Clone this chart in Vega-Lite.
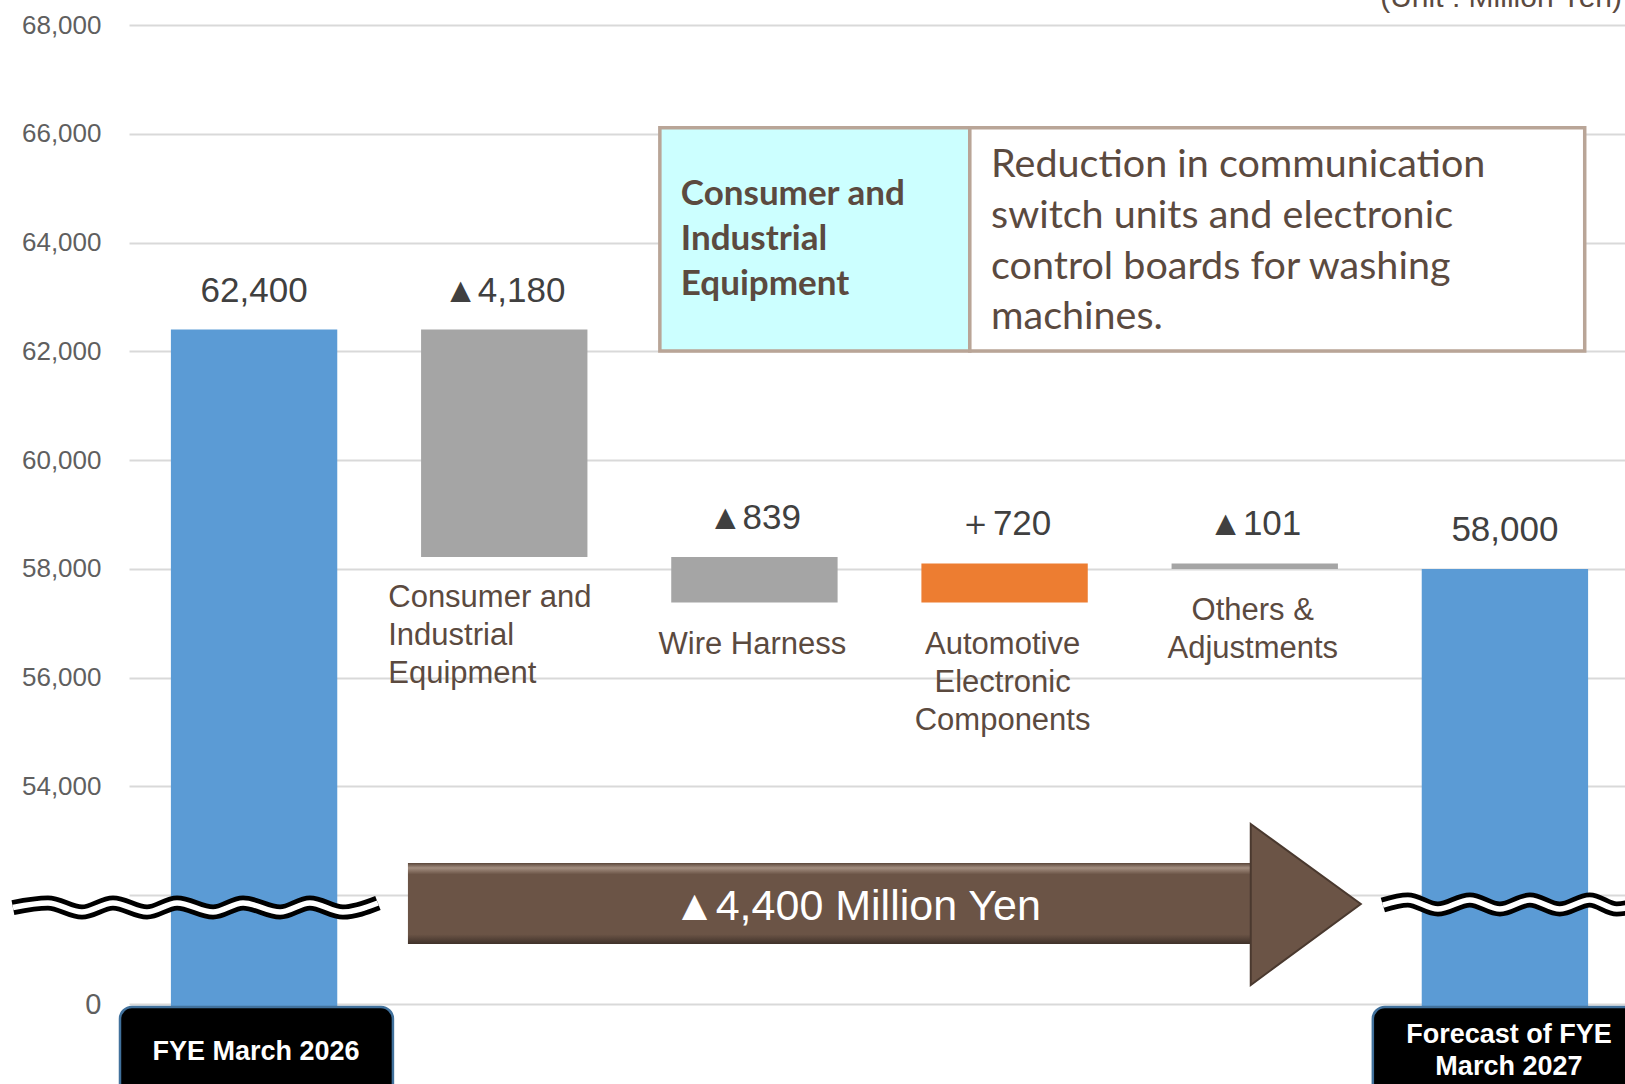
{
  "$schema": "https://vega.github.io/schema/vega-lite/v6.json",
  "width": 1496,
  "height": 979,
  "autosize": {"type": "none"},
  "padding": {"left": 129, "top": 25, "right": 0, "bottom": 80},
  "background": "white",
  "config": {"view": {"stroke": null}, "text": {"font": "Liberation Sans"}},
  "datasets": {
    "bars": [
      {"cat": "FYE March 2026", "name": "FYE March 2026", "kind": "total", "lo": 0, "hi": 62400, "label": "62,400"},
      {"cat": "Consumer and Industrial Equipment", "name": "Consumer and\nIndustrial\nEquipment", "kind": "decrease", "lo": 58220, "hi": 62400, "label": "▲4,180"},
      {"cat": "Wire Harness", "name": "Wire Harness", "kind": "decrease", "lo": 57381, "hi": 58220, "label": "▲839"},
      {"cat": "Automotive Electronic Components", "name": "Automotive\nElectronic\nComponents", "kind": "increase", "lo": 57381, "hi": 58101, "label": "＋720"},
      {"cat": "Others & Adjustments", "name": "Others &\nAdjustments", "kind": "decrease", "lo": 58000, "hi": 58101, "label": "▲101"},
      {"cat": "Forecast of FYE March 2027", "name": "Forecast of FYE\nMarch 2027", "kind": "total", "lo": 0, "hi": 58000, "label": "58,000"}
    ],
    "wave": [
      {"wave": "L", "seq": 0, "u": -0.464, "v": 51774},
      {"wave": "L", "seq": 1, "u": -0.324, "v": 51857},
      {"wave": "L", "seq": 2, "u": -0.188, "v": 51691},
      {"wave": "L", "seq": 3, "u": -0.064, "v": 51857},
      {"wave": "L", "seq": 4, "u": 0.072, "v": 51691},
      {"wave": "L", "seq": 5, "u": 0.192, "v": 51857},
      {"wave": "L", "seq": 6, "u": 0.336, "v": 51691},
      {"wave": "L", "seq": 7, "u": 0.456, "v": 51857},
      {"wave": "L", "seq": 8, "u": 0.604, "v": 51691},
      {"wave": "L", "seq": 9, "u": 0.723, "v": 51857},
      {"wave": "L", "seq": 10, "u": 0.855, "v": 51691},
      {"wave": "L", "seq": 11, "u": 0.995, "v": 51857},
      {"wave": "R", "seq": 0, "u": 5.012, "v": 51820},
      {"wave": "R", "seq": 1, "u": 5.112, "v": 51912},
      {"wave": "R", "seq": 2, "u": 5.232, "v": 51746},
      {"wave": "R", "seq": 3, "u": 5.36, "v": 51912},
      {"wave": "R", "seq": 4, "u": 5.48, "v": 51746},
      {"wave": "R", "seq": 5, "u": 5.6, "v": 51912},
      {"wave": "R", "seq": 6, "u": 5.719, "v": 51746},
      {"wave": "R", "seq": 7, "u": 5.839, "v": 51912},
      {"wave": "R", "seq": 8, "u": 5.947, "v": 51746},
      {"wave": "R", "seq": 9, "u": 6.079, "v": 51912}
    ],
    "arrow": [{"u0": 1.115, "u1": 4.484, "v0": 51103, "v1": 52592}],
    "arrowhead": [
      {"u": 4.484, "top": 53309, "bot": 50349},
      {"u": 4.924, "top": 51838, "bot": 51838}
    ],
    "note": [
      {"cell": "segment", "u0": 2.122, "u1": 3.361, "v0": 62004, "v1": 66112},
      {"cell": "reason", "u0": 3.361, "u1": 5.819, "v0": 62004, "v1": 66112}
    ],
    "tags": [
      {"cat": "FYE March 2026", "u0": -0.036, "u1": 1.055},
      {"cat": "Forecast of FYE March 2027", "u0": 4.972, "u1": 6.4}
    ]
  },
  "resolve": {"scale": {"x": "independent"}},
  "layer": [
    {
      "data": {"name": "bars"},
      "mark": {"type": "bar"},
      "encoding": {
        "x": {"field": "cat", "type": "nominal", "sort": null, "axis": null,
              "scale": {"domain": ["FYE March 2026", "Consumer and Industrial Equipment", "Wire Harness", "Automotive Electronic Components", "Others & Adjustments", "Forecast of FYE March 2027"], "range": [0, 1501], "paddingInner": 0.335, "paddingOuter": 0.1675}},
        "y": {"field": "hi", "type": "quantitative", "title": null,
              "scale": {"domain": [50000, 68000], "zero": false},
              "axis": {"values": [50000, 52000, 54000, 56000, 58000, 60000, 62000, 64000, 66000, 68000],
                       "labelExpr": "datum.value == 50000 ? '0' : (datum.value == 52000 ? '' : format(datum.value, ','))",
                       "grid": true, "gridColor": "#d9d9d9", "gridWidth": 2, "domain": false, "ticks": false,
                       "labelPadding": 28, "labelFont": "Liberation Sans", "labelColor": "#5f5f5f",
                       "labelFontSize": {"condition": {"test": "datum.value == 50000", "value": 29}, "value": 26}}},
        "y2": {"field": "lo"},
        "color": {"field": "kind", "type": "nominal", "legend": null,
                  "scale": {"domain": ["total", "decrease", "increase"], "range": ["#5b9bd5", "#a5a5a5", "#ed7d31"]}}
      }
    },
    {
      "data": {"name": "wave"},
      "mark": {"type": "line", "color": "#000000", "strokeWidth": 15, "interpolate": "monotone", "strokeCap": "butt"},
      "encoding": {
        "x": {"field": "u", "type": "quantitative", "axis": null, "scale": {"domain": [0, 6], "range": [0, 1501]}},
        "y": {"field": "v", "type": "quantitative", "title": null, "scale": {"domain": [50000, 68000], "zero": false}},
        "detail": {"field": "wave"},
        "order": {"field": "seq"}
      }
    },
    {
      "data": {"name": "wave"},
      "mark": {"type": "line", "color": "#ffffff", "strokeWidth": 5.5, "interpolate": "monotone", "strokeCap": "butt"},
      "encoding": {
        "x": {"field": "u", "type": "quantitative", "axis": null, "scale": {"domain": [0, 6], "range": [0, 1501]}},
        "y": {"field": "v", "type": "quantitative", "title": null, "scale": {"domain": [50000, 68000], "zero": false}},
        "detail": {"field": "wave"},
        "order": {"field": "seq"}
      }
    },
    {
      "data": {"name": "arrow"},
      "mark": {"type": "rect",
               "color": {"gradient": "linear", "x1": 0, "y1": 0, "x2": 0, "y2": 1,
                         "stops": [{"offset": 0, "color": "#5a463a"}, {"offset": 0.06, "color": "#a38e80"}, {"offset": 0.14, "color": "#6b5446"}, {"offset": 0.88, "color": "#6b5446"}, {"offset": 1, "color": "#3f3129"}]}},
      "encoding": {
        "x": {"field": "u0", "type": "quantitative", "axis": null, "scale": {"domain": [0, 6], "range": [0, 1501]}},
        "x2": {"field": "u1"},
        "y": {"field": "v0", "type": "quantitative", "title": null, "scale": {"domain": [50000, 68000], "zero": false}},
        "y2": {"field": "v1"}
      }
    },
    {
      "data": {"name": "arrowhead"},
      "mark": {"type": "area", "color": "#6b5446", "stroke": "#4a392f", "strokeWidth": 2, "orient": "vertical"},
      "encoding": {
        "x": {"field": "u", "type": "quantitative", "axis": null, "scale": {"domain": [0, 6], "range": [0, 1501]}},
        "y": {"field": "top", "type": "quantitative", "title": null, "scale": {"domain": [50000, 68000], "zero": false}},
        "y2": {"field": "bot"}
      }
    },
    {
      "data": {"values": [{"t": "▲4,400 Million Yen"}]},
      "mark": {"type": "text", "color": "#ffffff", "fontSize": 43, "align": "center", "baseline": "middle", "font": "Liberation Sans"},
      "encoding": {
        "x": {"datum": 2.91, "type": "quantitative", "axis": null, "scale": {"domain": [0, 6], "range": [0, 1501]}},
        "y": {"datum": 51783, "type": "quantitative", "title": null, "scale": {"domain": [50000, 68000], "zero": false}},
        "text": {"field": "t"}
      }
    },
    {
      "data": {"name": "note"},
      "mark": {"type": "rect", "stroke": "#b9a597", "strokeWidth": 3.5},
      "encoding": {
        "x": {"field": "u0", "type": "quantitative", "axis": null, "scale": {"domain": [0, 6], "range": [0, 1501]}},
        "x2": {"field": "u1"},
        "y": {"field": "v0", "type": "quantitative", "title": null, "scale": {"domain": [50000, 68000], "zero": false}},
        "y2": {"field": "v1"},
        "fill": {"field": "cell", "type": "nominal", "legend": null, "scale": {"domain": ["segment", "reason"], "range": ["#ccffff", "#ffffff"]}}
      }
    },
    {
      "data": {"values": [{"t": "Consumer and\nIndustrial\nEquipment"}]},
      "mark": {"type": "text", "font": "Lato", "fontWeight": "bold", "fontSize": 35, "color": "#5b4a3f", "align": "left", "baseline": "middle", "lineBreak": "\n", "lineHeight": 45},
      "encoding": {
        "x": {"datum": 2.206, "type": "quantitative", "axis": null, "scale": {"domain": [0, 6], "range": [0, 1501]}},
        "y": {"datum": 64890, "type": "quantitative", "title": null, "scale": {"domain": [50000, 68000], "zero": false}},
        "text": {"field": "t"}
      }
    },
    {
      "data": {"values": [{"t": "Reduction in communication\nswitch units and electronic\ncontrol boards for washing\nmachines."}]},
      "mark": {"type": "text", "font": "Lato", "fontSize": 39.5, "color": "#5b4a3f", "align": "left", "baseline": "middle", "lineBreak": "\n", "lineHeight": 50.7},
      "encoding": {
        "x": {"datum": 3.446, "type": "quantitative", "axis": null, "scale": {"domain": [0, 6], "range": [0, 1501]}},
        "y": {"datum": 65423, "type": "quantitative", "title": null, "scale": {"domain": [50000, 68000], "zero": false}},
        "text": {"field": "t"}
      }
    },
    {
      "data": {"name": "bars"},
      "mark": {"type": "text", "fontSize": 35, "color": "#404040", "align": "center", "baseline": "middle", "dy": -39, "font": "Liberation Sans"},
      "encoding": {
        "x": {"field": "cat", "type": "nominal", "sort": null, "axis": null,
              "scale": {"domain": ["FYE March 2026", "Consumer and Industrial Equipment", "Wire Harness", "Automotive Electronic Components", "Others & Adjustments", "Forecast of FYE March 2027"], "range": [0, 1501], "paddingInner": 0.335, "paddingOuter": 0.1675}},
        "y": {"field": "hi", "type": "quantitative", "title": null, "scale": {"domain": [50000, 68000], "zero": false}},
        "text": {"field": "label"}
      }
    },
    {
      "data": {"name": "bars"},
      "transform": [{"filter": "datum.cat == 'Consumer and Industrial Equipment'"}],
      "mark": {"type": "text", "fontSize": 31, "color": "#5b4a3f", "align": "left", "baseline": "top", "dy": 26, "dx": -116, "lineBreak": "\n", "lineHeight": 38, "font": "Liberation Sans"},
      "encoding": {
        "x": {"field": "cat", "type": "nominal", "sort": null, "axis": null,
              "scale": {"domain": ["FYE March 2026", "Consumer and Industrial Equipment", "Wire Harness", "Automotive Electronic Components", "Others & Adjustments", "Forecast of FYE March 2027"], "range": [0, 1501], "paddingInner": 0.335, "paddingOuter": 0.1675}},
        "y": {"field": "lo", "type": "quantitative", "title": null, "scale": {"domain": [50000, 68000], "zero": false}},
        "text": {"field": "name"}
      }
    },
    {
      "data": {"name": "bars"},
      "transform": [{"filter": "datum.kind != 'total' && datum.cat != 'Consumer and Industrial Equipment'"}],
      "mark": {"type": "text", "fontSize": 31, "color": "#5b4a3f", "align": "center", "baseline": "top", "dy": 27, "dx": -2, "lineBreak": "\n", "lineHeight": 38, "font": "Liberation Sans"},
      "encoding": {
        "x": {"field": "cat", "type": "nominal", "sort": null, "axis": null,
              "scale": {"domain": ["FYE March 2026", "Consumer and Industrial Equipment", "Wire Harness", "Automotive Electronic Components", "Others & Adjustments", "Forecast of FYE March 2027"], "range": [0, 1501], "paddingInner": 0.335, "paddingOuter": 0.1675}},
        "y": {"field": "lo", "type": "quantitative", "title": null, "scale": {"domain": [50000, 68000], "zero": false}},
        "text": {"field": "name"}
      }
    },
    {
      "data": {"name": "tags"},
      "mark": {"type": "rect", "fill": "#000000", "stroke": "#41719c", "strokeWidth": 2.5, "cornerRadius": 12},
      "encoding": {
        "x": {"field": "u0", "type": "quantitative", "axis": null, "scale": {"domain": [0, 6], "range": [0, 1501]}},
        "x2": {"field": "u1"},
        "y": {"datum": 49945, "type": "quantitative", "title": null, "scale": {"domain": [50000, 68000], "zero": false}},
        "y2": {"datum": 47000}
      }
    },
    {
      "data": {"name": "bars"},
      "transform": [{"filter": "datum.cat == 'FYE March 2026'"}],
      "mark": {"type": "text", "fontSize": 27, "fontWeight": "bold", "color": "#ffffff", "align": "center", "baseline": "middle", "dx": 2, "font": "Liberation Sans"},
      "encoding": {
        "x": {"field": "cat", "type": "nominal", "sort": null, "axis": null,
              "scale": {"domain": ["FYE March 2026", "Consumer and Industrial Equipment", "Wire Harness", "Automotive Electronic Components", "Others & Adjustments", "Forecast of FYE March 2027"], "range": [0, 1501], "paddingInner": 0.335, "paddingOuter": 0.1675}},
        "y": {"datum": 49125, "type": "quantitative", "title": null, "scale": {"domain": [50000, 68000], "zero": false}},
        "text": {"field": "name"}
      }
    },
    {
      "data": {"name": "bars"},
      "transform": [{"filter": "datum.cat == 'Forecast of FYE March 2027'"}],
      "mark": {"type": "text", "fontSize": 27, "fontWeight": "bold", "color": "#ffffff", "align": "center", "baseline": "middle", "dx": 4, "lineBreak": "\n", "lineHeight": 32, "font": "Liberation Sans"},
      "encoding": {
        "x": {"field": "cat", "type": "nominal", "sort": null, "axis": null,
              "scale": {"domain": ["FYE March 2026", "Consumer and Industrial Equipment", "Wire Harness", "Automotive Electronic Components", "Others & Adjustments", "Forecast of FYE March 2027"], "range": [0, 1501], "paddingInner": 0.335, "paddingOuter": 0.1675}},
        "y": {"datum": 49437, "type": "quantitative", "title": null, "scale": {"domain": [50000, 68000], "zero": false}},
        "text": {"field": "name"}
      }
    },
    {
      "data": {"values": [{"t": "(Unit : Million Yen)"}]},
      "mark": {"type": "text", "fontSize": 30, "color": "#5b4a3f", "align": "right", "baseline": "alphabetic", "font": "Liberation Sans"},
      "encoding": {
        "x": {"datum": 5.968, "type": "quantitative", "axis": null, "scale": {"domain": [0, 6], "range": [0, 1501]}},
        "y": {"datum": 68336, "type": "quantitative", "title": null, "scale": {"domain": [50000, 68000], "zero": false}},
        "text": {"field": "t"}
      }
    }
  ]
}
